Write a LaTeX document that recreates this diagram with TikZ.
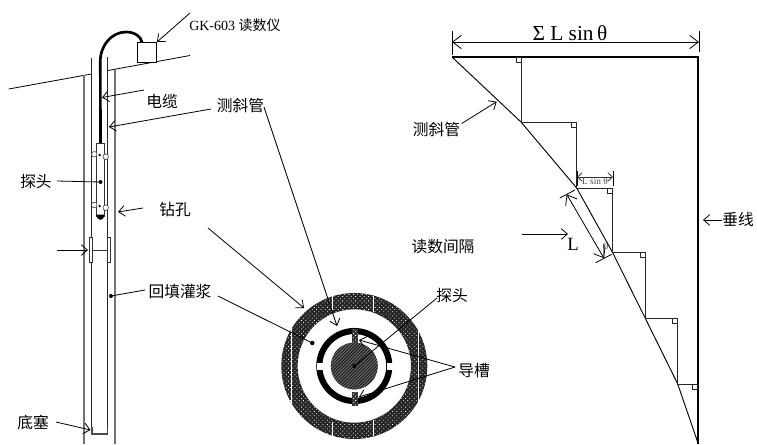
\documentclass[tikz,border=0pt]{standalone}
\usepackage{fontspec}
\setmainfont{Liberation Serif}
\newfontfamily\cjk{Noto Sans CJK SC}
\usetikzlibrary{arrows.meta,patterns.meta}
\tikzset{
 arr/.style={-{Straight Barb[length=4.6pt,width=8pt,line width=.6pt]},line width=.6pt},
 barr/.style={{Straight Barb[length=6.5pt,width=10pt,line width=.6pt]}-{Straight Barb[length=6.5pt,width=10pt,line width=.6pt]},line width=.6pt},
 sarr/.style={{Straight Barb[length=3.5pt,width=6.5pt,line width=.6pt]}-{Straight Barb[length=3.5pt,width=6.5pt,line width=.6pt]},line width=.6pt},
 lbl/.style={inner sep=0pt,font=\cjk\fontsize{11.8}{12}\selectfont},
 wall/.style={draw=black!55,line width=.9pt},
 casing/.style={draw=black!85,line width=.7pt},
 thin line/.style={line width=.6pt},
 step line/.style={draw=black!85,line width=.7pt},
 sq/.style={draw=black!85,line width=.5pt},
 wheel/.style={draw=black!75,line width=.45pt,fill=white},
 tdot/.style={fill=black}
}
\begin{document}
\begin{tikzpicture}[x=.75pt,y=-.75pt]
\useasboundingbox (0,0) rectangle (757,444);
% labels
\node[inner sep=0pt,anchor=west,font=\fontsize{10.5}{12}\selectfont] (gk) at (189,25) {GK-603 {\cjk 读数仪}};
\node[lbl] (dianlan) at (162,102) {电缆};
\node[lbl] (cxg1) at (240.5,105) {测斜管};
\node[lbl] (tantou1) at (36,181) {探头};
\node[lbl] (zuankong) at (175,210) {钻孔};
\node[lbl] (htgj) at (180,291) {回填灌浆};
\node[lbl] (disai) at (33,422) {底塞};
\node[lbl] (tantou2) at (452,295) {探头};
\node[lbl] (daocao) at (474,371) {导槽};
\node[lbl] (cxg2) at (436.5,129) {测斜管};
\node[lbl] (dsjg) at (443,247) {读数间隔};
\node[lbl] (chuixian) at (738,219) {垂线};
\node[inner sep=0pt,font=\fontsize{16}{17}\selectfont] (sumL) at (570,33) {Σ L sin\,θ};
\node[inner sep=0pt,font=\fontsize{14}{15}\selectfont] (Llab) at (573,244) {L};
\node[inner sep=0pt,text=black!70,font=\fontsize{7}{8}\selectfont] (Lsin) at (595,181) {L sin θ};
\node[inner sep=0pt,text=black!70,font=\fontsize{7}{8}\selectfont] (thetalab) at (606,246) {θ};

% borehole
\draw[thin line] (8.7,89) -- (91.6,74);
\draw[thin line] (108,70.5) -- (190,55.5);
\draw[wall] (84,75) -- (84,444);
\draw[wall] (115,70) -- (115,444);
\draw[casing] (91.6,58) -- (91.6,434) -- (107.5,434) -- (107.5,57);
\draw[line width=1pt,draw=black!70] (92,427) -- (92,434) -- (107.5,434) -- (107.5,427);
\node[draw,thin line,inner sep=0pt,fill=white,minimum width=14.5pt,minimum height=15.4pt] (box) at (147,52.5) {};
% cable
\coordinate (cabA) at (100.5,144);
\draw[line width=2pt] (cabA) -- (100.3,62) .. controls (100,45) and (112,32) .. (126,32) .. controls (134,32) and (141,36) .. (142,42.3);
% probe
\node[draw=black!80,line width=.6pt,inner sep=0pt,minimum width=5.5pt,minimum height=55pt,fill=white] (probe) at (100.3,180) {};
\draw[fill=black] (96.7,215) -- (104,215) .. controls (104,221) and (97,221) .. (96.7,215);
\foreach \x/\y/\n in {94.3/154.3/a,105.7/156.7/b,94.3/205/c,105.7/207.7/d}{
  \node[wheel,circle,inner sep=0pt,minimum size=4.2pt] (w\n) at (\x,\y) {};
}
\fill (99.7,155) circle (1.3);
\fill (99.7,206) circle (1.3);
\fill (100.5,182) circle (2);
\coordinate (pdot) at (100.5,182);
\draw[thin line] (tantou1.east)++(5,0) -- (pdot);
% joint
\node[draw=black!80,line width=.5pt,inner sep=0pt,minimum width=2pt,minimum height=18.5pt,fill=white] (jl) at (90.7,250) {};
\node[draw=black!80,line width=.5pt,inner sep=0pt,minimum width=2pt,minimum height=18.5pt,fill=white] (jr) at (108.7,250) {};
\draw[draw=black!80,line width=.6pt] (jl) -- (jr);
\coordinate (jin) at (57,250);
\draw[arr] (jin) -- (88,250);
% arrows left
\coordinate (a1) at (190,13); \coordinate (a1e) at (157,42);
\draw[arr] (a1) -- (a1e);
\draw[arr] (144,90) -- (102,97.5);
\draw[arr] (211,109) -- (109,127);
\draw[arr] (143,208) -- (118,212);
\fill (111,296) circle (2);
\coordinate (bdot) at (111,296);
\draw[thin line] (145,290) -- (bdot);
\draw[arr] (56,422) -- (90.5,430);

% cross-section
\coordinate (c) at (354.3,366);
\fill[black!85,even odd rule] (c) circle (73) (c) circle (56.7);
\path[even odd rule,pattern={Dots[distance=2.3pt,radius=.42pt,angle=45]},pattern color=white] (c) circle (73) (c) circle (56.7);
\foreach \x/\a/\b in {291/326/408,332/296/310,332/422/436,373/296/312,373/420/436,418/330/402}{
  \draw[white,line width=.6pt] (\x,\a) -- (\x,\b);
}
\draw[line width=4.6pt] (c) circle (35);
\fill[white] (316.5,363.3) rectangle (322.5,370);
\fill[white] (386.5,363.3) rectangle (392.5,370);
\foreach \a/\b in {329/344,392/406}{
  \fill[black!80] (351.5,\a) rectangle (357.5,\b);
  \path[pattern={Dots[distance=2.3pt,radius=.42pt,angle=45]},pattern color=white] (351.5,\a) rectangle (357.5,\b);
}
\fill[black!60] (c) circle (23.5);
\path[pattern={Lines[angle=45,distance=1.7pt,line width=.7pt]},pattern color=black!90] (c) circle (23.5);
\fill (c) circle (2);
\coordinate (a2s) at (208,228); \coordinate (a2e) at (304,308);
\draw[arr] (a2s) -- (a2e);
\coordinate (a3s) at (264,107); \coordinate (a3e) at (337,326);
\draw[arr] (a3s) -- (a3e);
\coordinate (gdot) at (312.3,343);
\draw[thin line] (218,296) -- (gdot);
\fill (gdot) circle (2.2);
\draw[thin line] (437,298) -- (c);
\coordinate (apex) at (455,367);
\draw[arr] (apex) -- (359,340);
\draw[arr] (apex) -- (359,397);

% right diagram
\coordinate (p0) at (452,57);
\coordinate (p1) at (521,122);
\coordinate (p2) at (576.7,188);
\coordinate (p3) at (612.7,252.7);
\coordinate (p4) at (645.3,318.3);
\coordinate (p5) at (677.7,384);
\coordinate (p6) at (698,443);
\draw[line width=.7pt] (p0) -- (p1) -- (p2) -- (p3) -- (p4) -- (p5) -- (p6);
\draw[line width=1.6pt] (p0) -- (698,57) -- (698,444);
\draw[step line] (521,57) -- (p1) -- (576.7,122) -- (p2) -- (612.7,188) -- (p3) -- (645.3,252.7) -- (p4) -- (677.7,318.3) -- (p5) -- (697,384);
\foreach \x/\y in {521/57,576.7/122,612.7/188,645.3/252.7,677.7/318.3,697/384}{
  \draw[sq] (\x-5,\y) rectangle ++(5,5);
}
% dimensions
\coordinate (d1) at (452,42); \coordinate (d2) at (699,42);
\draw[thin line] (452,31) -- (452,55);
\draw[thin line] (699,31) -- (699,52);
\draw[barr] (d1) -- (d2);
\draw[thin line] (577,171) -- (577,186);
\draw[thin line] (613,171) -- (613,186);
\draw[sarr,draw=black!80] (577,177) -- (613,177);
\coordinate (L1) at (566.7,194.3); \coordinate (L2) at (604,258.3);
\draw[barr] (L1) -- (L2);
\draw[thin line] (559.7,198) -- (575,190);
\draw[thin line] (595.7,262.7) -- (611.7,254.3);
\draw[thin line,draw=black!70] (604,258.3) -- (603.5,244);
\draw[arr] (522,234) -- (568,234);
\draw[arr] (461.7,123.5) -- (496.7,101.7);
\draw[arr] (722,220) -- (703,220);
\end{tikzpicture}
\end{document}
